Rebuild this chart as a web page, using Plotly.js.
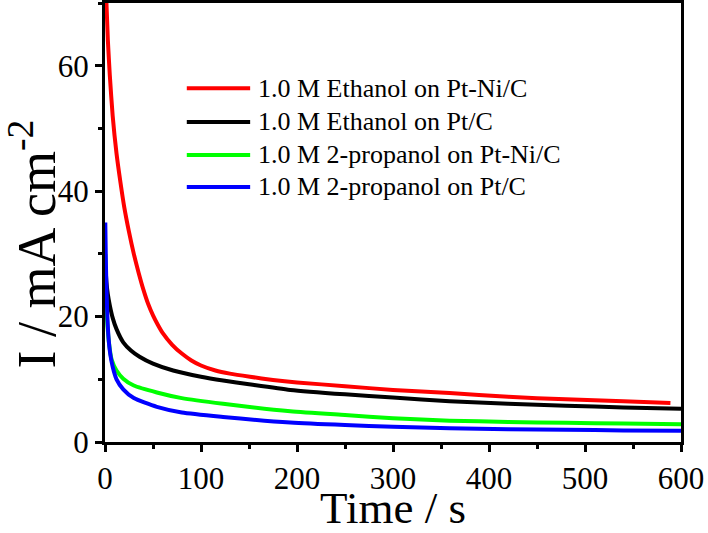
<!DOCTYPE html>
<html>
<head>
<meta charset="utf-8">
<script src="https://cdn.plot.ly/plotly-3.0.1.min.js"></script>
<style>html,body{margin:0;padding:0;background:#fff;}#chart{width:708px;height:533px;}</style>
</head>
<body>
<div id="chart"></div>
<script>
// Series names and colours
const seriesNames = [
  "1.0 M Ethanol on Pt-Ni/C",
  "1.0 M Ethanol on Pt/C",
  "1.0 M 2-propanol on Pt-Ni/C",
  "1.0 M 2-propanol on Pt/C"
];
const seriesColors = ["#ff0000", "#000000", "#00ff00", "#0000ff"];
const xTitle = "Time / s";
const yTitle = "I / mA cm<sup>-2</sup>";

// Ethanol on Pt-Ni/C
const tEthPtNi = [1.5, 3, 5, 8, 12, 16, 20, 25, 30, 35, 40, 45, 50, 55, 60, 70, 80, 90, 100, 115, 130, 151, 175, 200, 250, 300, 359, 420, 480, 540, 589];
const iEthPtNi = [70, 64, 58.5, 52, 46, 41.5, 37.5, 33.5, 30, 27, 24.3, 22.0, 20.2, 18.7, 17.4, 15.5, 14.1, 13.0, 12.2, 11.4, 10.9, 10.4, 9.9, 9.5, 8.9, 8.3, 7.8, 7.2, 6.8, 6.5, 6.2];

// Ethanol on Pt/C
const tEthPt = [0.5, 1.5, 3, 5, 8, 12, 19, 27, 36, 50, 71, 100, 123, 150, 193, 250, 300, 359, 420, 480, 540, 600];
const iEthPt = [28, 25.5, 23.5, 21.8, 19.8, 18, 15.9, 14.6, 13.6, 12.5, 11.4, 10.4, 9.8, 9.2, 8.3, 7.6, 7.1, 6.5, 6.1, 5.8, 5.5, 5.3];

// 2-propanol on Pt-Ni/C
const tPropPtNi = [0.3, 1, 2, 4, 7, 12, 19, 30, 54, 80, 123, 193, 250, 300, 359, 420, 480, 540, 600];
const iPropPtNi = [30, 24, 20, 16, 13.1, 11.4, 10.1, 9.0, 7.9, 7.0, 6.1, 4.9, 4.3, 3.8, 3.4, 3.2, 3.05, 2.95, 2.85];

// 2-propanol on Pt/C
const tPropPt = [0.3, 1, 2, 3.5, 5.5, 8, 12, 19, 30, 54, 80, 123, 193, 250, 300, 359, 420, 480, 540, 600];
const iPropPt = [35, 28, 22, 17, 14, 12.0, 10.0, 8.4, 7.0, 5.6, 4.7, 4.0, 3.1, 2.7, 2.45, 2.2, 2.05, 1.95, 1.85, 1.8];

const xs = [tEthPtNi, tEthPt, tPropPtNi, tPropPt];
const ys = [iEthPtNi, iEthPt, iPropPtNi, iPropPt];

const FONT = "Liberation Serif, Times New Roman, serif";

const traces = xs.map((x, k) => ({
  x: x, y: ys[k], type: "scatter", mode: "lines", name: seriesNames[k],
  line: {color: seriesColors[k], width: 4, shape: "spline", smoothing: 0.6},
  showlegend: false
}));

// manual legend (long line samples as in the reference)
const legX0 = 0.142, legX1 = 0.252, legTextX = 0.262;
const legY = [0.806, 0.729, 0.654, 0.581];
const shapes = [], annotations = [];
seriesNames.forEach((n, k) => {
  shapes.push({type: "line", xref: "paper", yref: "paper", x0: legX0, x1: legX1, y0: legY[k], y1: legY[k],
    line: {color: seriesColors[k], width: 4}});
  annotations.push({xref: "paper", yref: "paper", x: legTextX, y: legY[k], xanchor: "left", yanchor: "middle",
    text: n, showarrow: false, font: {family: FONT, size: 26, color: "#000"}});
});
// y-axis title (placed like the reference)
annotations.push({xref: "paper", yref: "paper", x: -0.125, y: 0.45, xanchor: "center", yanchor: "middle",
  textangle: -90, text: yTitle, showarrow: false, font: {family: FONT, size: 54, color: "#000"}});

const axisCommon = {
  showline: true, linecolor: "#000", linewidth: 3, mirror: true,
  ticks: "outside", ticklen: 7, tickwidth: 3, tickcolor: "#000",
  showgrid: false, zeroline: false,
  tickfont: {family: FONT, size: 31, color: "#000"}
};

const layout = {
  width: 708, height: 533,
  margin: {l: 105, r: 27, t: 3, b: 91},
  paper_bgcolor: "#fff", plot_bgcolor: "#fff",
  xaxis: Object.assign({}, axisCommon, {
    range: [0, 600], dtick: 100, tick0: 0,
    minor: {dtick: 50, ticks: "outside", ticklen: 4, tickwidth: 3, tickcolor: "#000", showgrid: false},
    title: {text: xTitle, font: {family: FONT, size: 45, color: "#000"}, standoff: 5}
  }),
  yaxis: Object.assign({}, axisCommon, {
    range: [0, 70], dtick: 20, tick0: 0,
    minor: {dtick: 10, ticks: "outside", ticklen: 4, tickwidth: 3, tickcolor: "#000", showgrid: false}
  }),
  shapes: shapes,
  annotations: annotations,
  showlegend: false
};

Plotly.newPlot("chart", traces, layout, {displayModeBar: false, staticPlot: true});
</script>
</body>
</html>
